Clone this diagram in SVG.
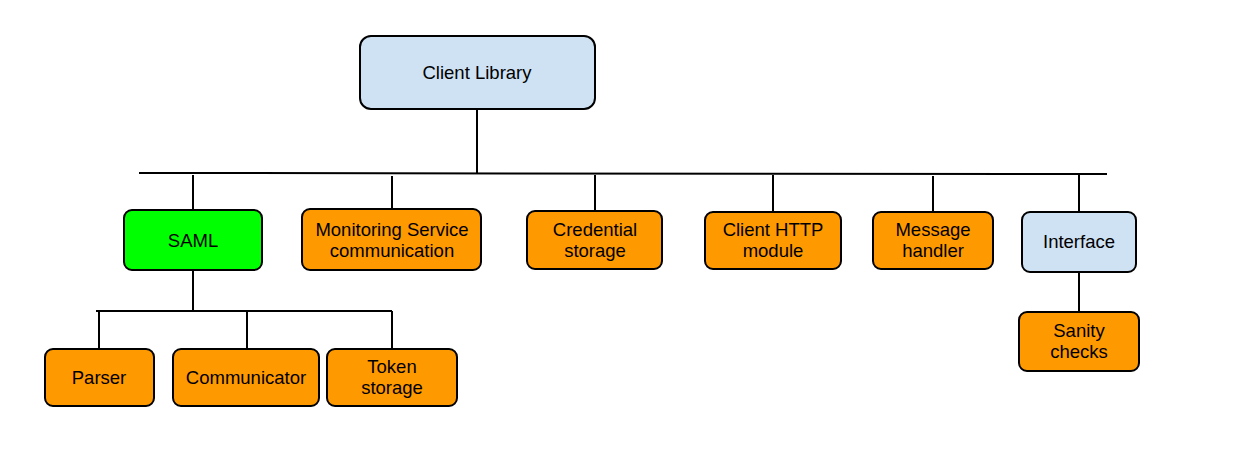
<svg xmlns="http://www.w3.org/2000/svg" width="1242" height="475" viewBox="0 0 1242 475">
<style>
.b{stroke:#000;stroke-width:2}
.blue{fill:#cfe2f3}.green{fill:#00ff00}.orange{fill:#ff9900}
text{font-family:"Liberation Sans",Arial,sans-serif;font-size:18.5px;fill:#000;text-anchor:middle}
.c{stroke:#000;stroke-width:2;fill:none}
</style>
<rect width="1242" height="475" fill="#fff"/>
<g id="connectors">
<path class="c" d="M139 173 L1107 174"/>
<path class="c" d="M477 109 V174"/>
<path class="c" d="M193 175 V210"/>
<path class="c" d="M392 176 V209"/>
<path class="c" d="M595 175 V211"/>
<path class="c" d="M773 175 V212"/>
<path class="c" d="M933 176 V212"/>
<path class="c" d="M1079 175 V212"/>
<path class="c" d="M1079 272 V312"/>
<path class="c" d="M193 271 V311"/>
<path class="c" d="M96 311 H392"/>
<path class="c" d="M99 311 V349"/>
<path class="c" d="M247 311 V349"/>
<path class="c" d="M392 311 V349"/>
</g>
<g id="client-library"><rect class="b blue" x="360" y="36" width="235" height="73" rx="11"/><text x="477" y="79">Client Library</text></g>
<g id="saml"><rect class="b green" x="124" y="210" width="138" height="60" rx="8"/><text x="193" y="247">SAML</text></g>
<g id="monitoring"><rect class="b orange" x="302" y="209" width="179" height="61" rx="8"/><text x="392" y="236">Monitoring Service</text><text x="392" y="257">communication</text></g>
<g id="credential"><rect class="b orange" x="527" y="211" width="135" height="58" rx="8"/><text x="595" y="236">Credential</text><text x="595" y="257">storage</text></g>
<g id="http"><rect class="b orange" x="705" y="212" width="136" height="57" rx="8"/><text x="773" y="236">Client HTTP</text><text x="773" y="257">module</text></g>
<g id="message"><rect class="b orange" x="873" y="212" width="120" height="57" rx="8"/><text x="933" y="236">Message</text><text x="933" y="257">handler</text></g>
<g id="interface"><rect class="b blue" x="1022" y="212" width="114" height="60" rx="8"/><text x="1079" y="248">Interface</text></g>
<g id="sanity"><rect class="b orange" x="1019" y="312" width="120" height="59" rx="8"/><text x="1079" y="337">Sanity</text><text x="1079" y="358">checks</text></g>
<g id="parser"><rect class="b orange" x="45" y="349" width="109" height="57" rx="8"/><text x="99" y="384">Parser</text></g>
<g id="communicator"><rect class="b orange" x="173" y="349" width="146" height="57" rx="8"/><text x="246" y="384">Communicator</text></g>
<g id="token"><rect class="b orange" x="327" y="349" width="130" height="57" rx="8"/><text x="392" y="373">Token</text><text x="392" y="394">storage</text></g>
</svg>
